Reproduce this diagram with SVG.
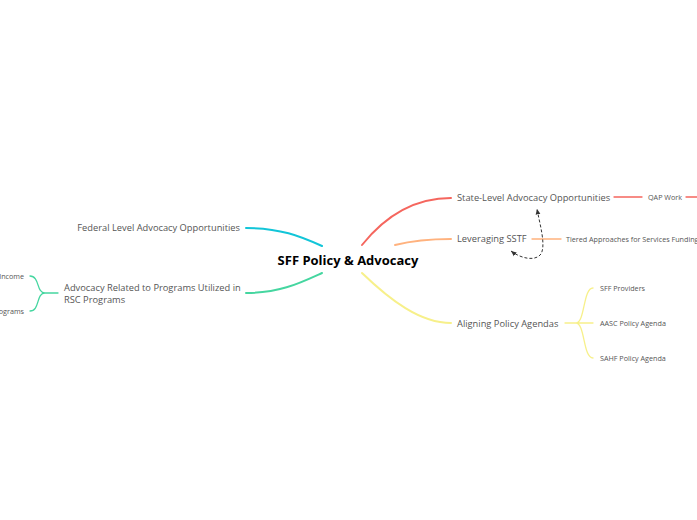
<svg xmlns="http://www.w3.org/2000/svg" width="697" height="520" viewBox="0 0 697 520">
<defs>
<style>
.t{font-family:"Open Sans","Noto Sans",sans-serif;fill:#555;font-size:9.3px}
.s{font-family:"Open Sans","Noto Sans",sans-serif;fill:#555;font-size:7.2px}
.c{font-family:"Open Sans","Noto Sans",sans-serif;fill:#000;font-size:13px;font-weight:bold}
.m{fill:none;stroke-width:2;stroke-linecap:round}
.b{fill:none;stroke-width:1.3;stroke-linecap:round}
</style>
<marker id="ah" viewBox="0 0 10 10" refX="9" refY="5" markerWidth="6" markerHeight="6" orient="auto-start-reverse">
<path d="M0,1 L9,5 L0,9 z" fill="#333"/>
</marker>
</defs>
<rect width="697" height="520" fill="#fff"/>
<g id="connectors">
<path class="m" stroke="#12c5d8" d="M322,246 C300,236 280,228 246,228"/>
<path class="m" stroke="#45d6a0" d="M322,273 C300,283 280,293 246,293"/>
<path class="m" stroke="#f5665e" d="M362,245 C390,210 420,198 451,198"/>
<path class="m" stroke="#ffb27e" d="M395,245 C415,240 430,239 451,239"/>
<path class="m" stroke="#f7f08a" d="M362,273 C390,300 420,323 451,323"/>
<path class="b" stroke="#f5665e" d="M614,197 L642,197"/>
<path class="b" stroke="#f5665e" d="M686,197 L697,197"/>
<path class="b" stroke="#ffb27e" d="M532,239 L561,239"/>
<path class="b" stroke="#f7f08a" d="M565,323 L580,323 M593,288 C583,288 585,323 576,323 M593,358 C583,358 585,323 576,323 M576,323 L593,323"/>
<path class="b" stroke="#45d6a0" d="M58,293 L45,293 M30,276 C40,276 36,293 45,293 M30,311 C40,311 36,293 45,293"/>
<path fill="none" stroke="#333" stroke-width="1" stroke-dasharray="3,2" marker-start="url(#ah)" marker-end="url(#ah)" d="M511,251 C520,258 535,262 541,254 C546,245 540,225 537,209"/>
</g>
<g id="center"><text class="c" x="348" y="265" text-anchor="middle">SFF Policy &amp; Advocacy</text></g>
<g id="federal"><text class="t" x="240" y="231" text-anchor="end">Federal Level Advocacy Opportunities</text></g>
<g id="rsc"><text class="t" x="64" y="291">Advocacy Related to Programs Utilized in</text><text class="t" x="64" y="303">RSC Programs</text></g>
<g id="income"><text class="s" x="24" y="278.5" text-anchor="end">Income</text></g>
<g id="programs"><text class="s" x="24" y="313.5" text-anchor="end">Programs</text></g>
<g id="state"><text class="t" x="457" y="201">State-Level Advocacy Opportunities</text></g>
<g id="qap"><text class="s" x="648" y="199.5">QAP Work</text></g>
<g id="sstf"><text class="t" x="457" y="242">Leveraging SSTF</text></g>
<g id="tiered"><text class="s" x="566" y="241.5">Tiered Approaches for Services Funding</text></g>
<g id="aligning"><text class="t" x="457" y="327">Aligning Policy Agendas</text></g>
<g id="sffp"><text class="s" x="600" y="290.5">SFF Providers</text></g>
<g id="aasc"><text class="s" x="600" y="325.5">AASC Policy Agenda</text></g>
<g id="sahf"><text class="s" x="600" y="360.5">SAHF Policy Agenda</text></g>
</svg>
